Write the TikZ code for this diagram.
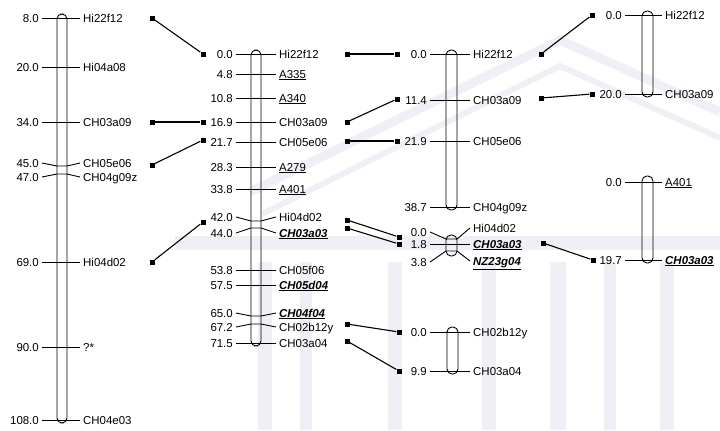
\documentclass[tikz,border=0pt]{standalone}
\usepackage{fontspec}
\setmainfont{Liberation Sans}
\usetikzlibrary{positioning}

\definecolor{wmark}{RGB}{238,240,245}

\begin{document}
\begin{tikzpicture}
[
  x=1bp, y=-1bp,
  font=\fontsize{11.5}{13}\selectfont,
  chrom/.style={draw, line width=0.9bp, rounded corners=5bp},
  num/.style={anchor=east, inner xsep=3bp, inner ysep=0pt, text height=8bp, text depth=0pt},
  lab/.style={anchor=west, inner xsep=3bp, inner ysep=0pt, text height=8bp, text depth=0pt},
  tick/.style={line width=0.9bp},
  sq/.style={fill, minimum size=5bp, inner sep=0pt},
  link/.style={line width=1.1bp},
  wm/.style={wmark, line cap=butt}
]
  \useasboundingbox (0,0) rectangle (720,430);
  \clip (0,0) rectangle (720,430);

  % faint building in the background
  \draw[wm, line width=9bp] (250,192) -- (560,40) -- (720,112);
  \draw[wm, line width=6bp] (262,214) -- (560,66) -- (720,138);
  \fill[wm] (175,236) rectangle (720,250);
  \fill[wm] (258,262) rectangle (272,430);
  \fill[wm] (300,262) rectangle (312,430);
  \fill[wm] (388,262) rectangle (402,430);
  \fill[wm] (482,262) rectangle (496,430);
  \fill[wm] (550,262) rectangle (566,430);
  \fill[wm] (604,262) rectangle (616,430);
  \fill[wm] (660,262) rectangle (674,430);

  % group 1
  \draw[chrom] (57,14) rectangle (67,423);
  \node[num] (g1n1) at (42,18) {8.0};
  \node[lab] (g1m1) at (80,18) {Hi22f12};
  \draw[tick] (g1n1.east) -- (g1m1.west);
  \node[num] (g1n2) at (42,67) {20.0};
  \node[lab] (g1m2) at (80,67) {Hi04a08};
  \draw[tick] (g1n2.east) -- (g1m2.west);
  \node[num] (g1n3) at (42,122) {34.0};
  \node[lab] (g1m3) at (80,122) {CH03a09};
  \draw[tick] (g1n3.east) -- (g1m3.west);
  \node[num] (g1n4) at (42,163) {45.0};
  \node[lab] (g1m4) at (80,163) {CH05e06};
  \draw[tick] (g1n4.east) -- (57,166) -- (67,166) -- (g1m4.west);
  \node[num] (g1n5) at (42,177) {47.0};
  \node[lab] (g1m5) at (80,177) {CH04g09z};
  \draw[tick] (g1n5.east) -- (57,174) -- (67,174) -- (g1m5.west);
  \node[num] (g1n6) at (42,262) {69.0};
  \node[lab] (g1m6) at (80,262) {Hi04d02};
  \draw[tick] (g1n6.east) -- (g1m6.west);
  \node[num] (g1n7) at (42,347) {90.0};
  \node[lab] (g1m7) at (80,347) {?*};
  \draw[tick] (g1n7.east) -- (g1m7.west);
  \node[num] (g1n8) at (42,420) {108.0};
  \node[lab] (g1m8) at (80,420) {CH04e03};
  \draw[tick] (g1n8.east) -- (g1m8.west);

  % group 2
  \draw[chrom] (251,50) rectangle (261,346);
  \node[num] (g2n1) at (236,54) {0.0};
  \node[lab] (g2m1) at (276,54) {Hi22f12};
  \draw[tick] (g2n1.east) -- (g2m1.west);
  \node[num] (g2n2) at (236,74) {4.8};
  \node[lab] (g2m2) at (276,74) {\underline{A335}};
  \draw[tick] (g2n2.east) -- (g2m2.west);
  \node[num] (g2n3) at (236,98) {10.8};
  \node[lab] (g2m3) at (276,98) {\underline{A340}};
  \draw[tick] (g2n3.east) -- (g2m3.west);
  \node[num] (g2n4) at (236,122) {16.9};
  \node[lab] (g2m4) at (276,122) {CH03a09};
  \draw[tick] (g2n4.east) -- (g2m4.west);
  \node[num] (g2n5) at (236,142) {21.7};
  \node[lab] (g2m5) at (276,142) {CH05e06};
  \draw[tick] (g2n5.east) -- (g2m5.west);
  \node[num] (g2n6) at (236,167) {28.3};
  \node[lab] (g2m6) at (276,167) {\underline{A279}};
  \draw[tick] (g2n6.east) -- (g2m6.west);
  \node[num] (g2n7) at (236,189) {33.8};
  \node[lab] (g2m7) at (276,189) {\underline{A401}};
  \draw[tick] (g2n7.east) -- (g2m7.west);
  \node[num] (g2n8) at (236,217) {42.0};
  \node[lab] (g2m8) at (276,217) {Hi04d02};
  \draw[tick] (g2n8.east) -- (251,221) -- (261,221) -- (g2m8.west);
  \node[num] (g2n9) at (236,233) {44.0};
  \node[lab] (g2m9) at (276,233) {\underline{\textbf{\textit{CH03a03}}}};
  \draw[tick] (g2n9.east) -- (251,228) -- (261,228) -- (g2m9.west);
  \node[num] (g2n10) at (236,270) {53.8};
  \node[lab] (g2m10) at (276,270) {CH05f06};
  \draw[tick] (g2n10.east) -- (g2m10.west);
  \node[num] (g2n11) at (236,285) {57.5};
  \node[lab] (g2m11) at (276,285) {\underline{\textbf{\textit{CH05d04}}}};
  \draw[tick] (g2n11.east) -- (g2m11.west);
  \node[num] (g2n12) at (236,313) {65.0};
  \node[lab] (g2m12) at (276,313) {\underline{\textbf{\textit{CH04f04}}}};
  \draw[tick] (g2n12.east) -- (251,316) -- (261,316) -- (g2m12.west);
  \node[num] (g2n13) at (236,327) {67.2};
  \node[lab] (g2m13) at (276,327) {CH02b12y};
  \draw[tick] (g2n13.east) -- (251,324) -- (261,324) -- (g2m13.west);
  \node[num] (g2n14) at (236,343) {71.5};
  \node[lab] (g2m14) at (276,343) {CH03a04};
  \draw[tick] (g2n14.east) -- (g2m14.west);

  % group 3
  \draw[chrom] (446,50) rectangle (457,210);
  \node[num] (g3n1) at (430,54) {0.0};
  \node[lab] (g3m1) at (470,54) {Hi22f12};
  \draw[tick] (g3n1.east) -- (g3m1.west);
  \node[num] (g3n2) at (430,100) {11.4};
  \node[lab] (g3m2) at (470,100) {CH03a09};
  \draw[tick] (g3n2.east) -- (g3m2.west);
  \node[num] (g3n3) at (430,141) {21.9};
  \node[lab] (g3m3) at (470,141) {CH05e06};
  \draw[tick] (g3n3.east) -- (g3m3.west);
  \node[num] (g3n4) at (430,207) {38.7};
  \node[lab] (g3m4) at (470,207) {CH04g09z};
  \draw[tick] (g3n4.east) -- (g3m4.west);

  % group 4
  \draw[chrom] (446,235) rectangle (457,256);
  \node[num] (g4n1) at (430,232) {0.0};
  \node[lab] (g4m1) at (470,228) {Hi04d02};
  \draw[tick] (g4n1.east) -- (446,239) -- (457,239) -- (g4m1.west);
  \node[num] (g4n2) at (430,244) {1.8};
  \node[lab] (g4m2) at (470,244) {\underline{\textbf{\textit{CH03a03}}}};
  \draw[tick] (g4n2.east) -- (g4m2.west);
  \node[num] (g4n3) at (430,262) {3.8};
  \node[lab] (g4m3) at (470,261) {\underline{\textbf{\textit{NZ23g04}}}};
  \draw[tick] (g4n3.east) -- (446,251) -- (457,251) -- (g4m3.west);

  % group 5
  \draw[chrom] (642,11) rectangle (653,97);
  \node[num] (g5n1) at (625,15) {0.0};
  \node[lab] (g5m1) at (662,15) {Hi22f12};
  \draw[tick] (g5n1.east) -- (g5m1.west);
  \node[num] (g5n2) at (625,94) {20.0};
  \node[lab] (g5m2) at (662,94) {CH03a09};
  \draw[tick] (g5n2.east) -- (g5m2.west);

  % group 6
  \draw[chrom] (642,176) rectangle (653,263);
  \node[num] (g6n1) at (625,182) {0.0};
  \node[lab] (g6m1) at (662,182) {\underline{A401}};
  \draw[tick] (g6n1.east) -- (g6m1.west);
  \node[num] (g6n2) at (625,260) {19.7};
  \node[lab] (g6m2) at (662,260) {\underline{\textbf{\textit{CH03a03}}}};
  \draw[tick] (g6n2.east) -- (g6m2.west);

  % group 7
  \draw[chrom] (447,327) rectangle (458,374);
  \node[num] (g7n1) at (430,332) {0.0};
  \node[lab] (g7m1) at (470,332) {CH02b12y};
  \draw[tick] (g7n1.east) -- (g7m1.west);
  \node[num] (g7n2) at (430,371) {9.9};
  \node[lab] (g7m2) at (470,371) {CH03a04};
  \draw[tick] (g7n2.east) -- (g7m2.west);

  % shared markers
  \node[sq] (s1a) at (152,18) {};
  \node[sq] (s1b) at (152,122) {};
  \node[sq] (s1c) at (152,165) {};
  \node[sq] (s1d) at (152,262) {};
  \node[sq] (s2a) at (203,54) {};
  \node[sq] (s2b) at (203,122) {};
  \node[sq] (s2c) at (203,140) {};
  \node[sq] (s2d) at (203,222) {};
  \node[sq] (s2e) at (347,54) {};
  \node[sq] (s2f) at (347,122) {};
  \node[sq] (s2g) at (347,141) {};
  \node[sq] (s2h) at (347,220) {};
  \node[sq] (s2i) at (347,228) {};
  \node[sq] (s2j) at (347,324) {};
  \node[sq] (s2k) at (347,341) {};
  \node[sq] (s3a) at (397,54) {};
  \node[sq] (s3b) at (397,99) {};
  \node[sq] (s3c) at (397,141) {};
  \node[sq] (s3d) at (541,54) {};
  \node[sq] (s3e) at (541,98) {};
  \node[sq] (s4a) at (399,237) {};
  \node[sq] (s4b) at (399,244) {};
  \node[sq] (s4c) at (543,243) {};
  \node[sq] (s5a) at (592,15) {};
  \node[sq] (s5b) at (592,94) {};
  \node[sq] (s6a) at (593,260) {};
  \node[sq] (s7a) at (399,332) {};
  \node[sq] (s7b) at (399,371) {};

  \draw[link] (s1a) -- (s2a);
  \draw[link] (s1b) -- (s2b);
  \draw[link] (s1c) -- (s2c);
  \draw[link] (s1d) -- (s2d);
  \draw[link] (s2e) -- (s3a);
  \draw[link] (s2f) -- (s3b);
  \draw[link] (s2g) -- (s3c);
  \draw[link] (s2h) -- (s4a);
  \draw[link] (s2i) -- (s4b);
  \draw[link] (s2j) -- (s7a);
  \draw[link] (s2k) -- (s7b);
  \draw[link] (s3d) -- (s5a);
  \draw[link] (s3e) -- (s5b);
  \draw[link] (s4c) -- (s6a);
\end{tikzpicture}
\end{document}
